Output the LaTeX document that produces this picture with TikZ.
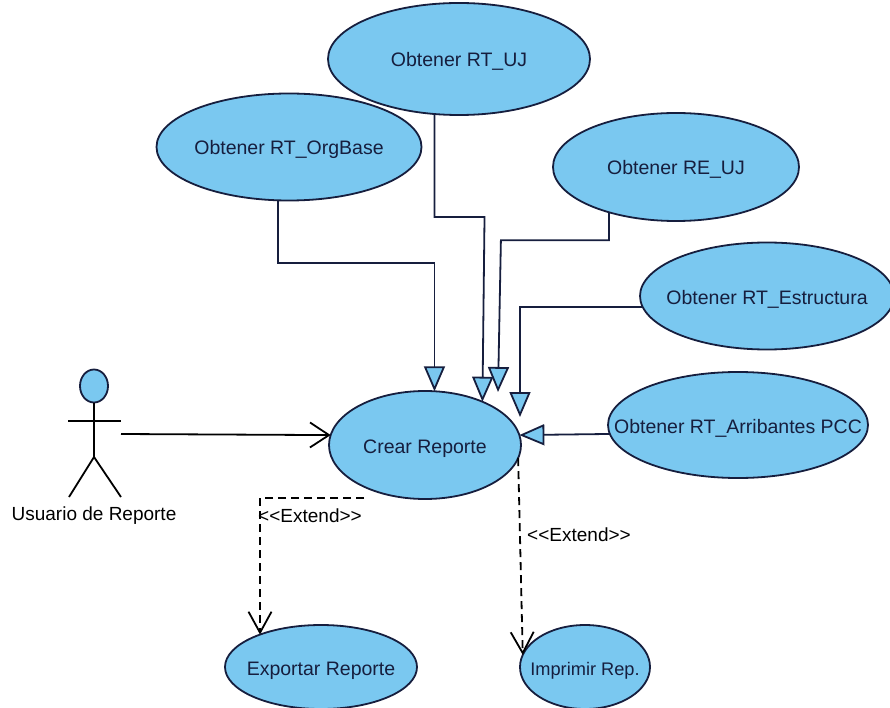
\documentclass[tikz,border=0pt]{standalone}
\usepackage{fontspec}
\setmainfont{Liberation Sans}
\usetikzlibrary{arrows.meta,shapes.geometric}
\definecolor{usecaseblue}{RGB}{122,200,240}
\definecolor{inkblue}{RGB}{22,30,62}
\newcommand{\ucname}[1]{\raisebox{-8pt}[0pt][0pt]{\makebox[0pt]{#1}}}

\begin{document}
\begin{tikzpicture}
[x=1pt,y=-1pt,line width=1.8pt,
usecase/.style={ellipse,draw=inkblue,fill=usecaseblue,inner sep=0pt,outer sep=0pt,text=inkblue,font=\fontsize{19.5}{22}\selectfont},
plain/.style={font=\fontsize{19}{22}\selectfont,inner sep=0pt},
general/.style={draw=inkblue,-{Triangle[open,length=25pt,width=21pt,fill=usecaseblue]}},
assoc/.style={draw=black,-{Straight Barb[length=19pt,width=25pt]}},
extend/.style={draw=black,dashed,dash pattern=on 8pt off 5pt,-{Straight Barb[length=21pt,width=23pt]}}]
\useasboundingbox (0,0) rectangle (890,708);
\node[usecase,minimum width=262pt,minimum height=112pt] (uj) at (459,59){\ucname{Obtener RT\_UJ}};
\node[usecase,minimum width=265pt,minimum height=107pt] (orgbase) at (289,147){\ucname{Obtener RT\_OrgBase}};
\node[usecase,minimum width=246pt,minimum height=108pt] (reuj) at (676,167){\ucname{Obtener RE\_UJ}};
\node[usecase,minimum width=254pt,minimum height=107pt] (estructura) at (767,296){\ucname{Obtener RT\_Estructura}};
\node[usecase,minimum width=260pt,minimum height=106pt] (arribantes) at (738,425){\ucname{Obtener RT\_Arribantes PCC}};
\node[usecase,minimum width=192pt,minimum height=108pt] (crear) at (425,445){\ucname{Crear Reporte}};
\node[usecase,minimum width=192pt,minimum height=84pt] (exportar) at (321,667){\ucname{Exportar Reporte}};
\node[usecase,minimum width=130pt,minimum height=84pt,font=\fontsize{18.2}{22}\selectfont] (imprimir) at (585,667){\ucname{Imprimir Rep.}};
\node[ellipse,draw=inkblue,fill=usecaseblue,inner sep=0pt,minimum width=28pt,minimum height=33pt] (head) at (94,386){};
\node[plain] (usuario) at (94,516){Usuario de Reporte};
\coordinate (hip) at (94,457);
\coordinate (armleft) at (68,421);
\coordinate (armright) at (121,421);
\coordinate (footleft) at (69,497);
\coordinate (footright) at (121,497);
\coordinate (hand) at (121,434);
\coordinate (tipreuj) at (498,392);
\coordinate (tipestructura) at (520,417);
\coordinate (startexport) at (364,498);
\draw (head.south)--(hip);
\draw (armleft)--(armright);
\draw (footleft)--(hip)--(footright);
\draw[assoc] (hand)--(crear.174);
\draw[general] (orgbase.-102.5)--++(0,63)-|(crear.80);
\draw[general] (uj.-114.4)--++(0,103)--++(50,0)--(crear.37);
\draw[general] (reuj.-146.5)--++(0,28)--++(-108,0)--(tipreuj);
\draw[general] (estructura.-175.5)-|(tipestructura);
\draw[general] (arribantes.-176)--(crear.6.5);
\draw[extend] (startexport)-|(exportar.152);
\draw[extend] (crear.-8)--(imprimir.169);
\node[plain] (extendleft) at (310,516){<{}<Extend>{}>};
\node[plain] (extendright) at (579,535){<{}<Extend>{}>};
\end{tikzpicture}
\end{document}
